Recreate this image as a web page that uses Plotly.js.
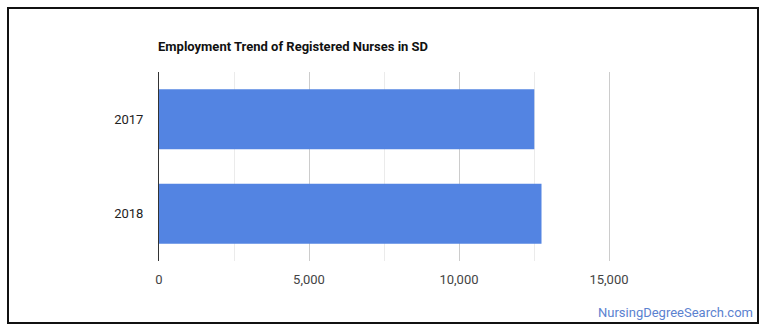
<!DOCTYPE html>
<html>
<head>
<meta charset="utf-8">
<script src="https://cdn.plot.ly/plotly-3.0.1.min.js"></script>
<style>
  html, body { margin: 0; padding: 0; background: #fff; }
  #wrap { position: relative; width: 770px; height: 335px; }
  #chart { width: 770px; height: 335px; }
  #frame { position: absolute; left: 7px; top: 7px; width: 752px; height: 317px;
           box-sizing: border-box; border: 2px solid #111; pointer-events: none; }
</style>
</head>
<body>
<div id="wrap">
  <div id="chart"></div>
  <div id="frame"></div>
</div>
<script>
const years = ["2017", "2018"];
const employment = [12510, 12750];
const xTickVals = [0, 5000, 10000, 15000];
const xTickText = ["0", "5,000", "10,000", "15,000"];
const titleText = "Employment Trend of Registered Nurses in SD";
const sourceText = "NursingDegreeSearch.com";

const trace = {
  type: "bar",
  orientation: "h",
  y: years,
  x: employment,
  width: 0.635,
  marker: { color: "#5384e2", line: { width: 0 } },
  hoverinfo: "skip"
};

const layout = {
  width: 770,
  height: 335,
  margin: { l: 159, r: 158, t: 72, b: 74 },
  paper_bgcolor: "#ffffff",
  plot_bgcolor: "#ffffff",
  showlegend: false,
  font: { family: "Roboto, Arial, sans-serif", size: 13, color: "#444" },
  title: {
    text: "<b>" + titleText + "</b>",
    x: 158 / 770, xanchor: "left", xref: "container",
    y: 1 - 46 / 335, yanchor: "middle", yref: "container",
    font: { family: "Roboto, Arial, sans-serif", size: 13, color: "#111" }
  },
  xaxis: {
    range: [0, 15100],
    tickvals: xTickVals,
    ticktext: xTickText,
    showgrid: true,
    gridcolor: "#cccccc",
    gridwidth: 1,
    zeroline: false,
    showline: false,
    ticks: "outside",
    ticklen: 6,
    tickcolor: "rgba(0,0,0,0)",
    tickfont: { size: 13, color: "#444" },
    minor: { dtick: 2500, tick0: 0, showgrid: true, gridcolor: "#ebebeb", gridwidth: 1 },
    fixedrange: true
  },
  yaxis: {
    autorange: "reversed",
    type: "category",
    showgrid: false,
    zeroline: false,
    showline: true,
    linecolor: "#333333",
    linewidth: 1,
    ticks: "",
    ticklabelstandoff: 12,
    tickfont: { size: 13, color: "#222" },
    fixedrange: true
  },
  bargap: 0.365,
  annotations: [{
    text: sourceText,
    xref: "paper", yref: "paper",
    x: (755 - 159) / 453, xanchor: "right",
    y: (261 - 312) / 189, yanchor: "middle",
    showarrow: false,
    font: { family: "Roboto, Arial, sans-serif", size: 13, color: "#5b82d0" }
  }]
};

Plotly.newPlot("chart", [trace], layout, { displayModeBar: false, staticPlot: true });
</script>
</body>
</html>
